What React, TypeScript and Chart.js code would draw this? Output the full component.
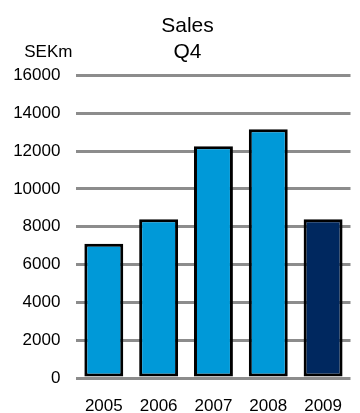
import React, { useEffect, useRef } from "react";
import { Chart, registerables } from "chart.js";

Chart.register(...registerables);

const years = ["2005", "2006", "2007", "2008", "2009"];
const salesSEKm = [7100, 8400, 12250, 13150, 8400];
const barColors = ["#0099D8", "#0099D8", "#0099D8", "#0099D8", "#00285F"];
const titleLines = ["Sales", "Q4"];
const unitLabel = "SEKm";

const FONT = "'Liberation Sans', Arial, Helvetica, sans-serif";

// Unit caption drawn above the value axis labels
const unitPlugin = {
  id: "unitLabel",
  afterDraw(chart: any) {
    const { ctx, chartArea } = chart;
    ctx.save();
    ctx.font = `17px ${FONT}`;
    ctx.fillStyle = "#000";
    ctx.textAlign = "right";
    ctx.textBaseline = "alphabetic";
    ctx.fillText(unitLabel, chartArea.left - 4, chartArea.top - 18);
    ctx.restore();
  },
};

export default function App() {
  const canvasRef = useRef<HTMLCanvasElement | null>(null);

  useEffect(() => {
    if (!canvasRef.current) return;
    const chart = new Chart(canvasRef.current, {
      type: "bar",
      data: {
        labels: years,
        datasets: [
          {
            data: salesSEKm,
            backgroundColor: barColors,
            borderColor: "#000",
            borderWidth: 3,
            borderSkipped: false,
            categoryPercentage: 1,
            barPercentage: 0.71,
          },
        ],
      },
      options: {
        responsive: false,
        animation: false,
        layout: { padding: { left: 13, right: -2, top: 0, bottom: 0 } },
        plugins: {
          legend: { display: false },
          tooltip: { enabled: false },
          title: {
            display: true,
            text: titleLines,
            color: "#000",
            font: { family: FONT, size: 21, weight: "normal", lineHeight: 1.2 },
            padding: { top: 14, bottom: 11 },
          },
        },
        scales: {
          x: {
            grid: { display: false, drawTicks: false },
            border: { display: false },
            ticks: {
              color: "#000",
              font: { family: FONT, size: 17 },
              padding: 18,
              maxRotation: 0,
            },
            afterFit(scale: any) {
              scale.height = 35;
            },
          },
          y: {
            min: 0,
            max: 16000,
            grid: { color: "#8c8c8c", lineWidth: 3, drawTicks: false },
            border: { display: false },
            ticks: {
              stepSize: 2000,
              color: "#000",
              font: { family: FONT, size: 17 },
              padding: 16,
              callback: (v: any) => String(v),
            },
            afterFit(scale: any) {
              scale.width = 63.4;
            },
          },
        },
      },
      plugins: [unitPlugin],
    });
    return () => chart.destroy();
  }, []);

  return (
    <div style={{ position: "fixed", left: 0, top: 0, width: 360, height: 413, background: "#fff" }}>
      <canvas ref={canvasRef} width={360} height={413} style={{ display: "block" }} />
    </div>
  );
}
